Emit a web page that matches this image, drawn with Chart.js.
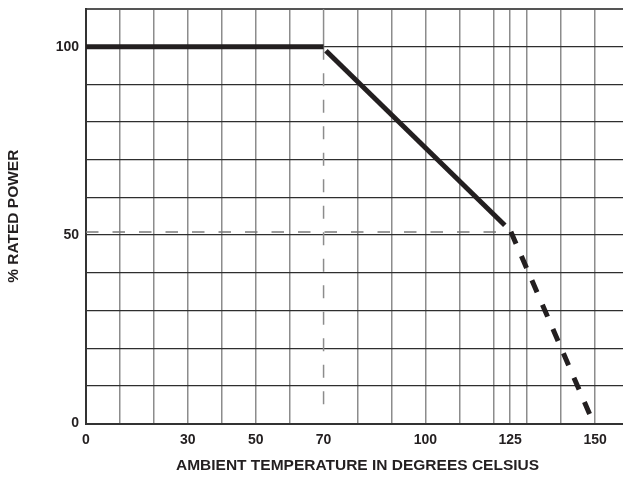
<!DOCTYPE html>
<html>
<head>
<meta charset="utf-8">
<script src="https://cdn.jsdelivr.net/npm/chart.js@4/dist/chart.umd.min.js"></script>
<style>
    html, body { margin: 0; padding: 0; background: #fff; overflow: hidden; }
    #wrap { width: 640px; height: 478px; }
</style>
</head>
<body>
<div id="wrap"><canvas id="chart-derating" width="640" height="478"></canvas></div>
<script>
// Curva de reduccion de potencia
const flatTemp = [0, 70];
const flatPower = [100, 100];
const slopeTemp = [70.7, 123.4];
const slopePower = [98.9, 52.6];
const extTemp = [125.2, 148.5];
const extPower = [50.9, 2.3];

// Lineas de referencia punteadas
const refVTemp = [70, 70];
const refVPower = [100, 2.8];
const refHTemp = [0, 121];
const refHPower = [50.8, 50.8];
const stubTemp = [70, 70];
const stubPower = [110, 100];

// Ejes
const xGridValues = [0, 10, 20, 30, 40, 50, 60, 70, 80, 90, 100, 110, 120, 125, 130, 140, 150, 160];
const xTickLabels = [0, 30, 50, 70, 100, 125, 150];
const yTickLabels = [0, 50, 100];

const INK = '#231f20';
const GRID_V = '#8c8c8c';
const GRID_H = '#2e2e2e';
const FONT = "'Liberation Sans', Arial, Helvetica, sans-serif";

function pts(xs, ys) {
    return xs.map((x, i) => ({ x: x, y: ys[i] }));
}

function lineSet(xs, ys, color, width, dash) {
    return {
        data: pts(xs, ys),
        borderColor: color,
        borderWidth: width,
        borderDash: dash || [],
        borderCapStyle: 'butt',
        pointRadius: 0,
        showLine: true,
        fill: false,
        tension: 0
    };
}

document.addEventListener("DOMContentLoaded", () => {
    const ctx = document.getElementById('chart-derating');

    new Chart(ctx, {
        type: 'scatter',
        data: {
            datasets: [
                lineSet(flatTemp, flatPower, INK, 5),
                lineSet(slopeTemp, slopePower, INK, 5),
                lineSet(extTemp, extPower, INK, 5, [13, 13.5]),
                lineSet(refVTemp, refVPower, GRID_V, 1.5, [13, 13.5]),
                lineSet(stubTemp, stubPower, GRID_V, 1.5),
                lineSet(refHTemp, refHPower, '#7a7a7a', 1.5, [12.5, 14])
            ]
        },
        options: {
            responsive: false,
            animation: false,
            devicePixelRatio: 1,
            layout: {
                padding: { top: 9, right: 11, bottom: 0, left: 0 }
            },
            plugins: {
                legend: { display: false },
                tooltip: { enabled: false }
            },
            scales: {
                x: {
                    type: 'linear',
                    min: 0,
                    max: 160,
                    afterBuildTicks: (scale) => {
                        scale.ticks = xGridValues.map(v => ({ value: v }));
                    },
                    afterFit: (scale) => {
                        scale.height = 54.5;
                        scale.paddingLeft = 0;
                        scale.paddingRight = 0;
                    },
                    grid: {
                        drawTicks: false,
                        color: (c) => (c.tick && c.tick.value === 70) ? 'rgba(0,0,0,0)' : GRID_V,
                        lineWidth: 1.5
                    },
                    border: { color: '#333', width: 2 },
                    ticks: {
                        autoSkip: false,
                        maxRotation: 0,
                        padding: 8,
                        color: INK,
                        font: { family: FONT, size: 14, weight: 'bold' },
                        callback: (value) => xTickLabels.includes(value) ? String(value) : ''
                    },
                    title: {
                        display: true,
                        text: 'AMBIENT TEMPERATURE IN DEGREES CELSIUS',
                        color: INK,
                        font: { family: FONT, size: 15.5, weight: 'bold' },
                        padding: { top: 0, bottom: 3 }
                    }
                },
                y: {
                    min: 0,
                    max: 110,
                    afterFit: (scale) => {
                        scale.width = 86;
                        scale.paddingTop = 0;
                        scale.paddingBottom = 0;
                    },
                    grid: {
                        drawTicks: false,
                        color: (c) => (c.tick && c.tick.value === 110) ? '#555' : GRID_H,
                        lineWidth: (c) => (c.tick && c.tick.value === 110) ? 2 : 1.2
                    },
                    border: { color: '#333', width: 2 },
                    ticks: {
                        stepSize: 10,
                        padding: 7,
                        color: INK,
                        font: { family: FONT, size: 14, weight: 'bold' },
                        callback: (value) => yTickLabels.includes(value) ? String(value) : ''
                    },
                    title: {
                        display: true,
                        text: '% RATED POWER',
                        color: INK,
                        font: { family: FONT, size: 15.5, weight: 'bold' },
                        padding: { top: 4, bottom: 0 }
                    }
                }
            }
        }
    });
});
</script>
</body>
</html>
